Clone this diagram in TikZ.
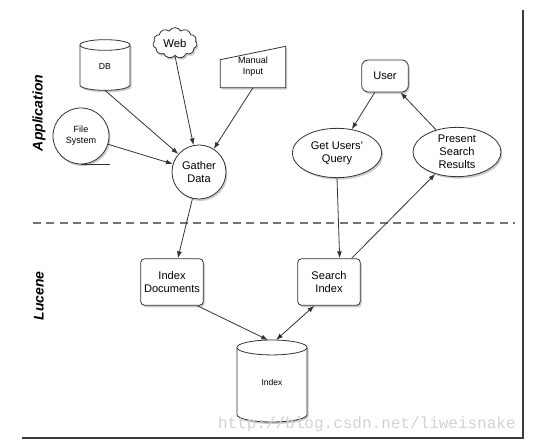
\documentclass[tikz,border=0pt]{standalone}
\usepackage{fontspec}
\setmainfont{Liberation Sans}
\newfontfamily\markfont{Liberation Mono}
\usetikzlibrary{arrows.meta,positioning,shapes.geometric,shapes.symbols,shadows,backgrounds}
\definecolor{diagramInk}{HTML}{333333}
\definecolor{diagramFrame}{HTML}{3C3C3C}
\definecolor{diagramDash}{HTML}{747474}
\definecolor{diagramMark}{HTML}{D2D2D2}
\tikzset{
  shapeBase/.style={
    draw=diagramInk,
    fill=white,
    line width=0.6pt,
    align=center,
    inner sep=1pt,
    font=\fontsize{8.3}{9.8}\selectfont,
    drop shadow={shadow xshift=1.1pt,shadow yshift=-1.5pt,opacity=0.4}
  },
  storeBox/.style={
    rectangle,
    inner sep=0pt,
    outer sep=0pt,
    align=center
  },
  storeLine/.style={
    draw=diagramInk,
    line width=0.6pt
  },
  bubble/.style={
    shapeBase,
    circle
  },
  oval/.style={
    shapeBase,
    ellipse,
    minimum width=67pt,
    minimum height=37pt,
    inner sep=0pt
  },
  process/.style={
    shapeBase,
    rectangle,
    rounded corners=3pt,
    minimum width=47pt,
    minimum height=35pt
  },
  arrow/.style={
    -{Latex[length=1.8mm,width=1.3mm]},
    line width=0.6pt,
    draw=diagramInk
  },
  twoWayArrow/.style={
    {Latex[length=1.8mm,width=1.3mm]}-{Latex[length=1.8mm,width=1.3mm]},
    line width=0.6pt,
    draw=diagramInk
  },
  layerLabel/.style={
    rotate=90,
    font=\fontsize{10.5}{12}\selectfont\bfseries\itshape
  }
}

\begin{document}
\begin{tikzpicture}[x=0.75pt,y=-0.75pt]
  \useasboundingbox (0,0) rectangle (543,445);
  % frame and divider
  \draw[diagramFrame,line width=1.3pt] (22,438) -- (523,438) -- (523,10);
  \draw[diagramDash,line width=1.2pt,dash pattern=on 6pt off 4pt] (33,223) -- (515,223);
  \node[layerLabel] (appLabel) at (39,113) {Application};
  \node[layerLabel] (luceneLabel) at (39,296) {Lucene};
  % application sources
  \node[storeBox,minimum width=37.6pt,minimum height=38pt,font=\fontsize{6.5}{7.5}\selectfont] (db) at (105,65) {\\DB};
  \node[shapeBase,cloud,cloud puffs=11,cloud puff arc=120,aspect=1.5,minimum width=33pt,minimum height=23pt,inner sep=0pt,font=\fontsize{8.5}{9.5}\selectfont] (web) at (175,43) {Web};
  \node[storeBox,minimum width=49pt,minimum height=31pt,font=\fontsize{6.8}{8.4}\selectfont] (manual) at (253,67) {Manual\\Input};
  \node[storeBox,minimum width=52.6pt,minimum height=61.5pt,font=\fontsize{6.4}{7.5}\selectfont] (index) at (272,381) {\\Index};
  \begin{scope}[on background layer]
    \draw[shapeBase] (manual.south west) -- (manual.south east) -- (manual.north east) -- ([yshift=-10pt]manual.north west) -- cycle;
    \path[shapeBase] ([yshift=-4pt]db.north west) -- ([yshift=4pt]db.south west)
      arc[start angle=180,end angle=360,x radius=18.8pt,y radius=4pt]
      -- ([yshift=-4pt]db.north east)
      arc[start angle=0,end angle=180,x radius=18.8pt,y radius=4pt] -- cycle;
    \draw[storeLine] ([yshift=-4pt]db.north west) arc[start angle=180,end angle=360,x radius=18.8pt,y radius=4pt];
    \path[shapeBase] ([yshift=-5.6pt]index.north west) -- ([yshift=5.6pt]index.south west)
      arc[start angle=180,end angle=360,x radius=26.3pt,y radius=5.6pt]
      -- ([yshift=-5.6pt]index.north east)
      arc[start angle=0,end angle=180,x radius=26.3pt,y radius=5.6pt] -- cycle;
    \draw[storeLine] ([yshift=-5.6pt]index.north west) arc[start angle=180,end angle=360,x radius=26.3pt,y radius=5.6pt];
  \end{scope}
  \node[bubble,minimum size=42pt,font=\fontsize{6.8}{8.2}\selectfont] (fs) at (81,136) {File\\System};
  \draw[storeLine] (fs.south) -- ++(29,0);
  \node[bubble,minimum size=40.5pt] (gather) at (199,172) {Gather\\Data};
  % user side
  \node[process,minimum width=35pt,minimum height=24pt,rounded corners=5pt] (user) at (385,76) {User};
  \node[oval] (query) at (337,153) {Get Users'\\Query};
  \node[oval,minimum width=66pt] (present) at (457,152) {Present\\Search\\Results};
  % lucene side
  \node[process] (idxdocs) at (172,282) {Index\\Documents};
  \node[process] (search) at (329,282) {Search\\Index};
  % connectors
  \draw[arrow] (db.south) -- (gather);
  \draw[arrow] (web.south) -- (gather);
  \draw[arrow] (manual.south) -- (gather);
  \draw[arrow] (fs) -- (gather);
  \draw[arrow] (gather) -- (idxdocs);
  \draw[arrow] (user) -- (query);
  \draw[arrow] (present) -- (user);
  \draw[arrow] (query.south) -- ([xshift=8pt]search.north);
  \draw[arrow] ([xshift=17pt]search.north) -- (present);
  \draw[arrow] ([xshift=19pt]idxdocs.south) -- ([xshift=-3pt]index.north);
  \draw[twoWayArrow] ([xshift=3pt]index.north) -- ([xshift=-11pt]search.south);
  % watermark
  \node[font=\markfont\fontsize{12}{12}\selectfont,text=diagramMark,anchor=east,inner sep=0pt] (mark) at (516,424) {http://blog.csdn.net/liweisnake};
\end{tikzpicture}
\end{document}
